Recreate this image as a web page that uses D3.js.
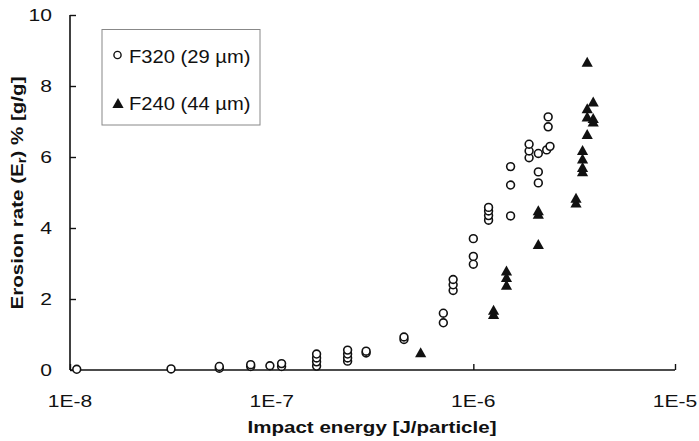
<!DOCTYPE html>
<html>
<head>
<meta charset="utf-8">
<script src="https://cdn.jsdelivr.net/npm/d3@7/dist/d3.min.js"></script>
<style>
  html, body { margin: 0; padding: 0; background: #fff; }
  svg { display: block; }
  text { font-family: "Liberation Sans", Arial, Helvetica, sans-serif; fill: #111; }
</style>
</head>
<body>
<svg id="chart" width="699" height="441"></svg>
<script>
// ---- Data ----
const seriesNames = ["F320 (29 µm)", "F240 (44 µm)"];

// F320 (29 µm): impact energy [J/particle]
const f320Energy = [
  1.08e-8, 3.17e-8, 5.5e-8, 5.5e-8, 7.87e-8, 7.87e-8, 9.8e-8, 1.12e-7, 1.12e-7,
  1.67e-7, 1.67e-7, 1.67e-7, 1.67e-7, 2.38e-7, 2.38e-7, 2.38e-7, 2.38e-7,
  2.94e-7, 2.94e-7, 4.53e-7, 4.53e-7, 7.1e-7, 7.1e-7, 7.94e-7, 7.94e-7, 7.94e-7,
  1.0e-6, 1.0e-6, 1.0e-6, 1.19e-6, 1.19e-6, 1.19e-6, 1.19e-6,
  1.53e-6, 1.53e-6, 1.53e-6, 1.89e-6, 1.89e-6, 1.89e-6,
  2.1e-6, 2.1e-6, 2.1e-6, 2.31e-6, 2.4e-6, 2.35e-6, 2.35e-6
];
// F320 erosion rate % [g/g]
const f320Rate = [
  0.02, 0.03, 0.05, 0.1, 0.1, 0.15, 0.12, 0.1, 0.18,
  0.11, 0.23, 0.34, 0.45, 0.25, 0.34, 0.45, 0.56,
  0.48, 0.53, 0.86, 0.93, 1.33, 1.6, 2.24, 2.4, 2.55,
  2.98, 3.2, 3.7, 4.22, 4.35, 4.48, 4.58,
  4.34, 5.21, 5.73, 5.98, 6.17, 6.36,
  5.27, 5.58, 6.1, 6.2, 6.3, 6.85, 7.13
];

// F240 (44 µm)
const f240Energy = [
  5.48e-7, 1.26e-6, 1.26e-6, 1.46e-6, 1.46e-6, 1.46e-6,
  2.1e-6, 2.1e-6, 2.1e-6, 3.23e-6, 3.23e-6,
  3.48e-6, 3.48e-6, 3.48e-6, 3.48e-6,
  3.67e-6, 3.67e-6, 3.67e-6, 3.67e-6, 3.93e-6, 3.93e-6, 3.93e-6
];
const f240Rate = [
  0.5, 1.58, 1.7, 2.4, 2.62, 2.8,
  3.55, 4.4, 4.5, 4.72, 4.85,
  5.6, 5.72, 5.96, 6.2,
  6.65, 7.14, 7.37, 8.68, 7.0, 7.1, 7.56
];

const xTicks = [1e-8, 1e-7, 1e-6, 1e-5];
const xTickLabels = ["1E-8", "1E-7", "1E-6", "1E-5"];
const yTicks = [0, 2, 4, 6, 8, 10];

// ---- Layout ----
const svg = d3.select("#chart");
const plotLeft = 70, plotRight = 675, plotTop = 15, plotBottom = 370;
const TXS = 1.24; // horizontal stretch of the reference's lettering

const x = d3.scaleLog().domain([1e-8, 1e-5]).range([plotLeft, plotRight]);
const y = d3.scaleLinear().domain([0, 10]).range([plotBottom, plotTop]);

const f320 = f320Energy.map((e, i) => ({ e, v: f320Rate[i] }));
const f240 = f240Energy.map((e, i) => ({ e, v: f240Rate[i] }));

// Axes
const xAxis = d3.axisBottom(x).tickValues(xTicks).tickSize(-6).tickFormat("");
const yAxis = d3.axisLeft(y).tickValues(yTicks).tickSize(-6).tickFormat("");

const gx = svg.append("g").attr("transform", `translate(0,${plotBottom})`).call(xAxis);
const gy = svg.append("g").attr("transform", `translate(${plotLeft},0)`).call(yAxis);
[gx, gy].forEach(g => {
  g.select(".domain").attr("stroke", "#111").attr("stroke-width", 1.6);
  g.selectAll(".tick line").attr("stroke", "#111").attr("stroke-width", 1.4);
});
gx.select(".domain").attr("d", `M${plotLeft},0H${plotRight}`);
gy.select(".domain").attr("d", `M0,${plotBottom}V${plotTop}`);

// Tick labels
svg.append("g").selectAll("text").data(xTicks).join("text")
  .attr("transform", d => `translate(${x(d)},407) scale(${TXS},1)`)
  .attr("text-anchor", "middle")
  .style("font-size", "17px")
  .text((d, i) => xTickLabels[i]);

svg.append("g").selectAll("text").data(yTicks).join("text")
  .attr("transform", d => `translate(52,${y(d) + 6.3}) scale(${TXS},1)`)
  .attr("text-anchor", "end")
  .style("font-size", "17px")
  .text(d => d);

// Axis titles
svg.append("text")
  .attr("transform", `translate(372,433) scale(1.21,1)`)
  .attr("text-anchor", "middle")
  .style("font-size", "17px").style("font-weight", "bold")
  .text("Impact energy [J/particle]");

const yt = svg.append("text")
  .attr("transform", `translate(23,193) rotate(-90) scale(1.21,1)`)
  .attr("text-anchor", "middle")
  .style("font-size", "17px").style("font-weight", "bold");
yt.append("tspan").text("Erosion rate (E");
yt.append("tspan").attr("baseline-shift", "-22%").style("font-size", "12px").text("r");
yt.append("tspan").text(") % [g/g]");

// Marks
const triPath = "M0,-5L5.6,5L-5.6,5Z";

svg.append("g").selectAll("circle").data(f320).join("circle")
  .attr("cx", d => x(d.e)).attr("cy", d => y(d.v)).attr("r", 3.9)
  .attr("fill", "#fff").attr("stroke", "#111").attr("stroke-width", 1.6);

svg.append("g").selectAll("path").data(f240).join("path")
  .attr("transform", d => `translate(${x(d.e)},${y(d.v)})`)
  .attr("d", triPath).attr("fill", "#111");

// Legend
const lg = svg.append("g");
lg.append("rect").attr("x", 102).attr("y", 29.5).attr("width", 158).attr("height", 95.5)
  .attr("fill", "#fff").attr("stroke", "#888").attr("stroke-width", 1);
lg.append("circle").attr("cx", 117.5).attr("cy", 55).attr("r", 3.6)
  .attr("fill", "#fff").attr("stroke", "#111").attr("stroke-width", 1.4);
lg.append("path").attr("transform", "translate(118,103)").attr("d", triPath).attr("fill", "#111");
lg.append("text").attr("transform", `translate(129,63) scale(1.12,1)`)
  .style("font-size", "18px").text(seriesNames[0]);
lg.append("text").attr("transform", `translate(129,110) scale(1.12,1)`)
  .style("font-size", "18px").text(seriesNames[1]);
</script>
</body>
</html>
